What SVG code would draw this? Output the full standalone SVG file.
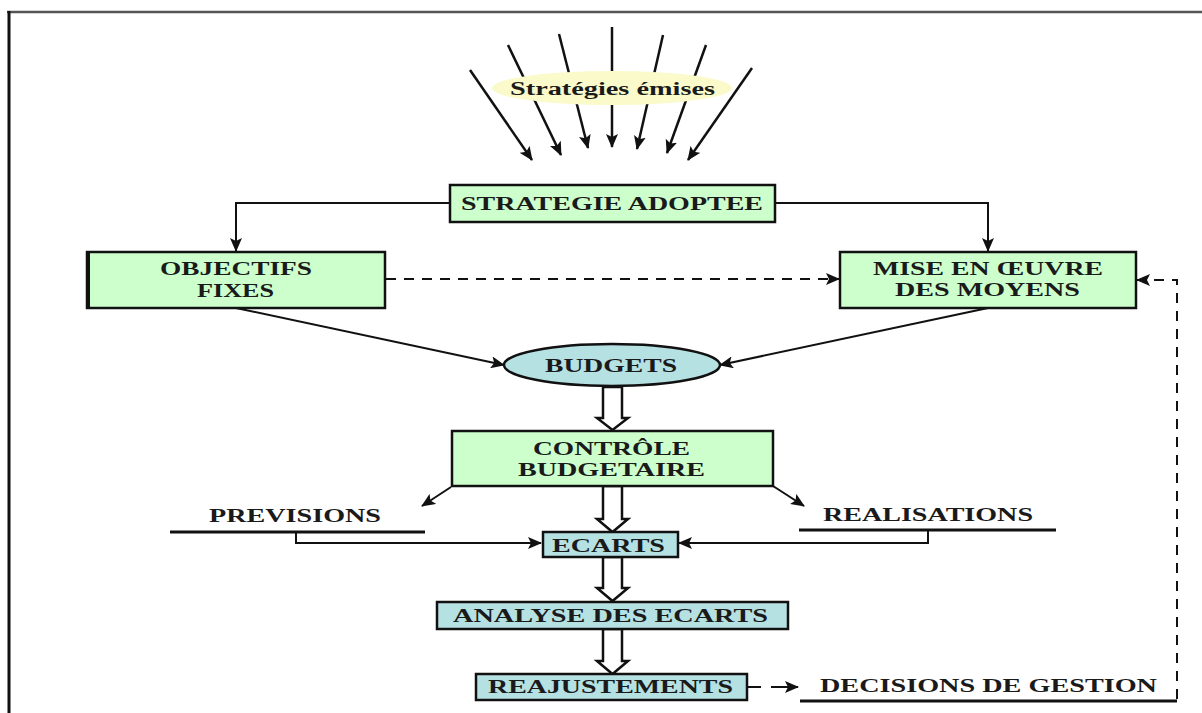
<svg xmlns="http://www.w3.org/2000/svg" width="1202" height="713" viewBox="0 0 1202 713">
  <style>
    .lbl { font-family: "Liberation Serif", "Times New Roman", serif; font-weight: bold; font-size: 18px; fill: #1a1a1a; }
    .green { fill: #ccffcc; stroke: #111; stroke-width: 2.5; }
    .teal { fill: #b6e1e3; stroke: #111; stroke-width: 2.5; }
    .ln { fill: none; stroke: #111; stroke-width: 2; }
    .ray { fill: none; stroke: #111; stroke-width: 2.5; }
    .dash { fill: none; stroke: #111; stroke-width: 2; stroke-dasharray: 10 8; }
    .hollow { fill: #ffffff; stroke: #111; stroke-width: 2.5; stroke-linejoin: miter; }
  </style>
  <defs>
    <marker id="ah" markerUnits="userSpaceOnUse" markerWidth="14" markerHeight="12" viewBox="0 0 14 12" refX="13" refY="6" orient="auto">
      <path d="M0,0 L14,6 L0,12 L3,6 Z" fill="#111"/>
    </marker>
  </defs>

  <rect width="1202" height="713" fill="#ffffff"/>

  <!-- page frame -->
  <line x1="7" y1="12" x2="1202" y2="12" stroke="#555" stroke-width="2.5"/>
  <line x1="9" y1="11" x2="9" y2="713" stroke="#111" stroke-width="3"/>

  <!-- connectors -->
  <g id="connectors">
    <!-- emitted strategies converging -->
    <line class="ray" x1="470" y1="70" x2="532" y2="160" marker-end="url(#ah)"/>
    <line class="ray" x1="508" y1="45" x2="561" y2="155" marker-end="url(#ah)"/>
    <line class="ray" x1="559" y1="34" x2="588" y2="148" marker-end="url(#ah)"/>
    <line class="ray" x1="612" y1="27" x2="612" y2="147" marker-end="url(#ah)"/>
    <line class="ray" x1="663" y1="35" x2="637" y2="149" marker-end="url(#ah)"/>
    <line class="ray" x1="706" y1="45" x2="667" y2="153" marker-end="url(#ah)"/>
    <line class="ray" x1="752" y1="68" x2="688" y2="160" marker-end="url(#ah)"/>

    <!-- strategy to objectives / means -->
    <polyline class="ln" points="450,203 236,203 236,251" marker-end="url(#ah)"/>
    <polyline class="ln" points="775,203 988,203 988,251" marker-end="url(#ah)"/>

    <!-- objectives to means -->
    <line class="dash" x1="386" y1="279" x2="839" y2="279" marker-end="url(#ah)"/>

    <!-- into budgets -->
    <line class="ln" x1="236" y1="308" x2="504" y2="365" marker-end="url(#ah)"/>
    <line class="ln" x1="988" y1="308" x2="720" y2="365" marker-end="url(#ah)"/>

    <!-- hollow flow arrows -->
    <polygon class="hollow" points="603,387 622,387 622,418 628,418 612.5,430 597,418 603,418"/>
    <polygon class="hollow" points="603,486 622,486 622,519 628,519 612.5,532 597,519 603,519"/>
    <polygon class="hollow" points="603,557 622,557 622,588 628,588 612.5,601 597,588 603,588"/>
    <polygon class="hollow" points="603,629 622,629 622,661 628,661 612.5,674 597,661 603,661"/>

    <!-- control to forecasts / actuals -->
    <line class="ln" x1="451" y1="487" x2="422" y2="506" marker-end="url(#ah)"/>
    <line class="ln" x1="773" y1="486" x2="804" y2="506" marker-end="url(#ah)"/>

    <!-- forecasts / actuals feeding variances -->
    <line x1="170" y1="532" x2="425" y2="532" stroke="#111" stroke-width="3"/>
    <polyline class="ln" points="296,532 296,543 541,543" marker-end="url(#ah)"/>
    <line x1="799" y1="530" x2="1056" y2="530" stroke="#111" stroke-width="3"/>
    <polyline class="ln" points="928,530 928,543 679,543" marker-end="url(#ah)"/>

    <!-- adjustments to management decisions -->
    <line class="ln" x1="748" y1="687" x2="761" y2="687"/>
    <line class="ln" x1="771" y1="687" x2="798" y2="687" marker-end="url(#ah)"/>
    <line x1="800" y1="701" x2="1177" y2="701" stroke="#111" stroke-width="3"/>

    <!-- feedback loop to means -->
    <polyline class="dash" points="1177,699 1177,280 1137,280" stroke-width="2.5" marker-end="url(#ah)"/>
  </g>

  <!-- nodes -->
  <g id="strategies-emises">
    <ellipse cx="612" cy="88" rx="120" ry="17" fill="#fafacb"/>
    <text class="lbl" x="510" y="95" textLength="205" lengthAdjust="spacingAndGlyphs">Stratégies émises</text>
  </g>

  <g id="strategie-adoptee">
    <rect class="green" x="450" y="185" width="325" height="37"/>
    <text class="lbl" x="461" y="210" textLength="302" lengthAdjust="spacingAndGlyphs">STRATEGIE ADOPTEE</text>
  </g>

  <g id="objectifs-fixes">
    <rect class="green" x="87" y="252" width="298" height="56"/>
    <line x1="88" y1="251" x2="88" y2="309" stroke="#111" stroke-width="4"/>
    <text class="lbl" x="160" y="275" textLength="152" lengthAdjust="spacingAndGlyphs">OBJECTIFS</text>
    <text class="lbl" x="197" y="297" textLength="77" lengthAdjust="spacingAndGlyphs">FIXES</text>
  </g>

  <g id="mise-en-oeuvre">
    <rect class="green" x="840" y="252" width="296" height="56"/>
    <text class="lbl" x="873" y="275" textLength="230" lengthAdjust="spacingAndGlyphs">MISE EN ŒUVRE</text>
    <text class="lbl" x="895" y="296" textLength="185" lengthAdjust="spacingAndGlyphs">DES MOYENS</text>
  </g>

  <g id="budgets">
    <ellipse class="teal" cx="612" cy="365" rx="108" ry="21"/>
    <text class="lbl" x="545" y="372" textLength="132" lengthAdjust="spacingAndGlyphs">BUDGETS</text>
  </g>

  <g id="controle-budgetaire">
    <rect class="green" x="452" y="431" width="321" height="55"/>
    <text class="lbl" x="533" y="455" textLength="157" lengthAdjust="spacingAndGlyphs">CONTRÔLE</text>
    <text class="lbl" x="518" y="476" textLength="187" lengthAdjust="spacingAndGlyphs">BUDGETAIRE</text>
  </g>

  <g id="previsions">
    <text class="lbl" x="209" y="522" textLength="172" lengthAdjust="spacingAndGlyphs">PREVISIONS</text>
  </g>

  <g id="realisations">
    <text class="lbl" x="823" y="521" textLength="210" lengthAdjust="spacingAndGlyphs">REALISATIONS</text>
  </g>

  <g id="ecarts">
    <rect class="teal" x="543" y="532" width="135" height="25"/>
    <text class="lbl" x="552" y="552" textLength="113" lengthAdjust="spacingAndGlyphs">ECARTS</text>
  </g>

  <g id="analyse-des-ecarts">
    <rect class="teal" x="437" y="602" width="351" height="27"/>
    <text class="lbl" x="453" y="622" textLength="315" lengthAdjust="spacingAndGlyphs">ANALYSE DES ECARTS</text>
  </g>

  <g id="reajustements">
    <rect class="teal" x="476" y="674" width="271" height="26"/>
    <text class="lbl" x="488" y="693" textLength="245" lengthAdjust="spacingAndGlyphs">REAJUSTEMENTS</text>
  </g>

  <g id="decisions-de-gestion">
    <text class="lbl" x="820" y="692" textLength="337" lengthAdjust="spacingAndGlyphs">DECISIONS DE GESTION</text>
  </g>
</svg>
